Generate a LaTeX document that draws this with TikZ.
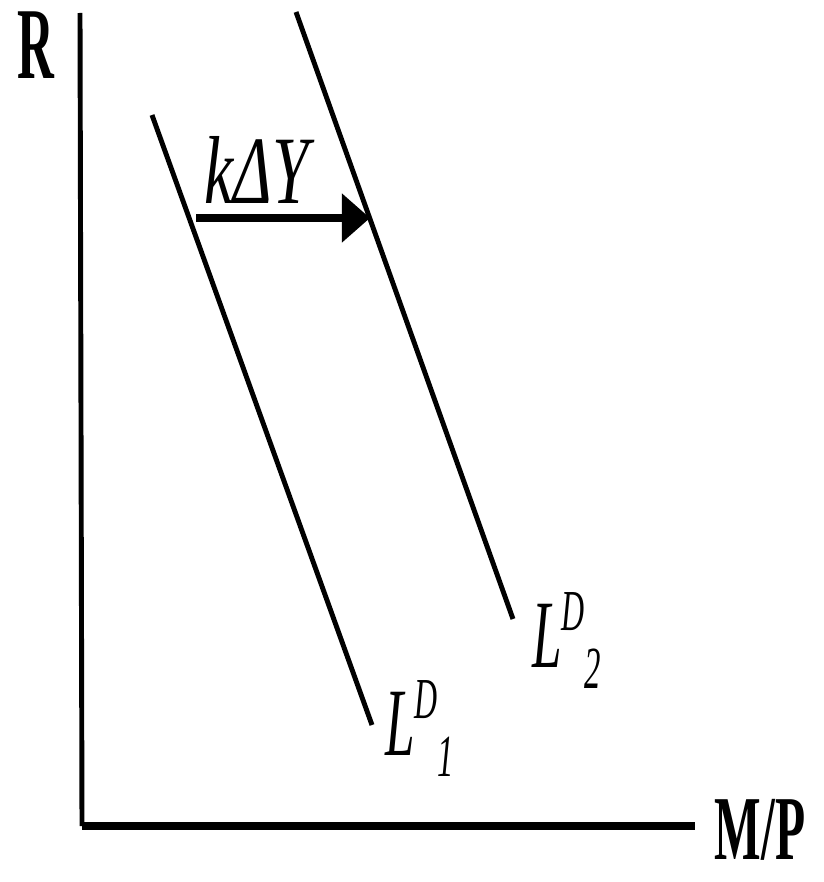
\documentclass[tikz,border=0pt]{standalone}
\usepackage{fontspec}
\setmainfont{Liberation Serif}
\usetikzlibrary{arrows.meta}

\tikzset{
    axislabel/.style={inner sep=0pt, font=\bfseries\fontsize{58}{60}\selectfont},
    curvelabel/.style={inner sep=0pt, anchor=base west, font=\itshape\fontsize{55}{60}\selectfont}
}
\newcommand{\narrow}[2][0.55]{\scalebox{#1}[1]{#2}}
\newcommand{\ldlabel}[1]{\narrow{L\raisebox{21pt}{\fontsize{33}{35}\selectfont D}\raisebox{-12pt}{\fontsize{34}{35}\selectfont #1}}}

\begin{document}
\begin{tikzpicture}[x=0.02cm, y=-0.02cm]
    \useasboundingbox (0,0) rectangle (823,882);
    % axes
    \coordinate (origin) at (82,826);
    \coordinate (ytop) at (80,13);
    \coordinate (xend) at (695,826);
    \draw[line width=2.8pt] (ytop) -- (origin);
    \draw[line width=4.5pt] (origin) -- (xend);
    \node[axislabel] (rlab) at (36,45) {\narrow[0.5]{R}};
    \node[axislabel, font=\bfseries\fontsize{52}{54}\selectfont] (mplab) at (760,830) {\narrow[0.54]{M/P}};

    % demand curves
    \coordinate (l1top) at (152,115);
    \coordinate (l1bot) at (372,725);
    \coordinate (l2top) at (296,12);
    \coordinate (l2bot) at (513,619);
    \draw[line width=2.8pt] (l1top) -- (l1bot);
    \draw[line width=2.8pt] (l2top) -- (l2bot);
    \node[curvelabel] (ld1) at (385,755) {\ldlabel{1}};
    \node[curvelabel] (ld2) at (532,667) {\ldlabel{2}};

    % shift
    \coordinate (shiftfrom) at (196,218);
    \coordinate (shiftto) at (370,218);
    \draw[line width=4.5pt, -{Triangle[length=16pt, width=27pt]}] (shiftfrom) -- (shiftto);
    \node[curvelabel] (kdy) at (204,203) {\narrow[0.68]{kΔY}};
\end{tikzpicture}
\end{document}
